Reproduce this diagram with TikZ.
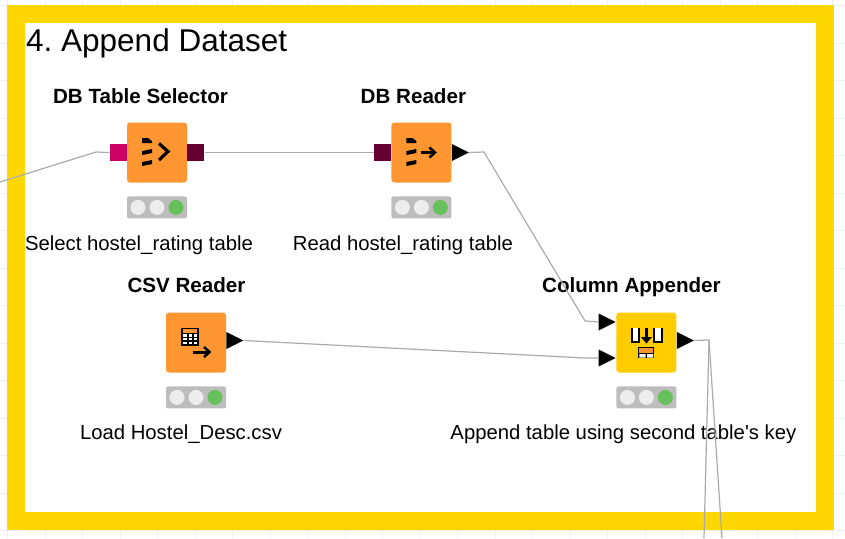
\documentclass[tikz,border=0pt]{standalone}
\usepackage{fontspec}
\setmainfont{Liberation Sans}
\newfontfamily\notefont{Liberation Sans}
\frenchspacing
\usetikzlibrary{positioning,shapes.geometric}
\definecolor{framey}{HTML}{FFD700}
\definecolor{nodeor}{HTML}{FF9632}
\definecolor{nodeye}{HTML}{FFCC00}
\definecolor{portin}{HTML}{CC0066}
\definecolor{portdb}{HTML}{660033}
\definecolor{lamp}{HTML}{BDBDBD}
\definecolor{lampon}{HTML}{66C05C}
\tikzset{main node/.style={rectangle,fill=nodeor,rounded corners=3pt,inner sep=0pt,minimum size=60pt}, }
\tikzset{main node2/.style={main node,fill=nodeye}, }
\tikzset{title text/.style={font=\fontsize{20.6}{24}\selectfont\bfseries,inner sep=0pt,text height=15pt,text depth=5pt}, }
\tikzset{note text/.style={font=\notefont\fontsize{20.3}{24}\selectfont,inner sep=0pt,text height=15pt,text depth=5pt}, }
\tikzset{db port/.style={rectangle,inner sep=0pt,minimum width=17pt,minimum height=17pt}, }
\tikzset{tri port/.style={isosceles triangle,isosceles triangle stretches,fill=black,inner sep=0pt,minimum height=17pt,minimum width=17pt}, }
\tikzset{linea/.style={draw=black!33,line width=1.2pt}}
\tikzset{status/.style={rectangle,fill=lamp,rounded corners=2pt,inner sep=0pt,minimum width=60pt,minimum height=22pt}, }
% traffic light under a node
\newcommand{\lights}[1]{
  \node[status,below=13.5pt of #1] (#1s) {};
  \fill[black!7] ([xshift=-19pt]#1s.center) circle (7.5pt) (#1s.center) circle (7.5pt);
  \fill[lampon] ([xshift=19pt]#1s.center) circle (7.5pt);
}
% three db bars
\newcommand{\bars}[1]{
  \begin{scope}[shift={(#1.center)}]
    \fill (-15,-14.5) -- (-9,-14.5) -- (-5,-11.5) -- (-5,-9.5) -- (-15,-9.5) -- cycle;
    \foreach \y in {-3.5,7.5}
      \fill (-15,\y+2) -- (-5,\y) -- (-5,\y+4) -- (-15,\y+6) -- cycle;
  \end{scope}
}
\begin{document}
\begin{tikzpicture}[x=1pt,y=-1pt]
  \useasboundingbox (0,0) rectangle (845,538);
  \foreach \x in {0,...,22} \draw[black!6,line width=.8pt] (7.5+37.5*\x,0) -- (7.5+37.5*\x,538);
  \foreach \y in {0,...,14} \draw[black!6,line width=.8pt] (0,5.5+37.5*\y) -- (845,5.5+37.5*\y);
  \draw[framey,line width=18pt,fill=white] (16,14) rectangle (825,521);
  \node[font=\fontsize{31.5}{36}\selectfont,inner sep=0pt,anchor=west] (head) at (26,43) {4. Append Dataset};
  %
  \node[main node] (sel) at (157,152.5) {};
  \node[main node] (read) [right=204pt of sel] {};
  \node[main node] (csv) at (196,342.5) {};
  \node[main node2] (app) [right=390pt of csv] {};
  %
  \node[title text] (sel1) [above=14pt of sel,xshift=-16.5pt] {DB Table Selector};
  \node[title text] (read1) [above=14pt of read,xshift=-8pt] {DB Reader};
  \node[title text] (csv1) [above=15pt of csv,xshift=-9.5pt] {CSV Reader};
  \node[title text] (app1) [above=15pt of app,xshift=-15pt] {Column Appender};
  \lights{sel} \lights{read} \lights{csv} \lights{app}
  \node[note text] (sel2) [below=17pt of sels,xshift=-18pt] {Select hostel\_rating table};
  \node[note text] (read2) [below=17pt of reads,xshift=-18.5pt] {Read hostel\_rating table};
  \node[note text] (csv2) [below=16pt of csvs,xshift=-15pt] {Load Hostel\_Desc.csv};
  \node[note text] (app2) [below=16pt of apps,xshift=-23pt] {Append table using second table's key};
  %
  \node[db port,fill=portin] (p1) [left=0pt of sel] {};
  \node[db port,fill=portdb] (p2) [right=0pt of sel] {};
  \node[db port,fill=portdb] (p3) [left=0pt of read] {};
  \node[tri port] (p4) [right=0pt of read] {};
  \node[tri port] (p5) [right=0pt of csv,yshift=2pt] {};
  \node[tri port] (p6) [left=0pt of app,yshift=20.5pt] {};
  \node[tri port] (p7) [left=0pt of app,yshift=-15.5pt] {};
  \node[tri port] (p8) [right=0pt of app,yshift=2pt] {};
  %
  \coordinate (c1) at (0,182);
  \coordinate (c2) at (96,152);
  \coordinate (c3) at (484,152);
  \coordinate (c4) at (585,321);
  \coordinate (c5) at (585,358);
  \coordinate (c6) at (709,340);
  \coordinate (c7) at (704,538);
  \coordinate (c8) at (722,538);
  \draw[linea] (c1) -- (c2) -- (p1.west);
  \draw[linea] (p2.east) -- (p3.west);
  \draw[linea] (p4.east) -- (c3) -- (c4) -- (p6.west);
  \draw[linea] (p5.east) -- (c5) -- (p7.west);
  \draw[linea] (p8.east) -- (c6) -- (c7);
  \draw[linea] (c6) -- (c8);
  %
  \bars{sel} \bars{read}
  \begin{scope}[shift={(sel.center)}]
    \draw[line width=3.2pt] (2,-9) -- (11,-1) -- (2,7.5);
  \end{scope}
  \begin{scope}[shift={(read.center)}]
    \draw[line width=3pt] (0,0) -- (12,0);
    \draw[line width=2.6pt] (8,-5) -- (13.5,0) -- (8,5);
  \end{scope}
  \begin{scope}[shift={(csv.center)}]
    \fill (-15,-15) rectangle (3,3);
    \fill[nodeor] (-13,-13.5) rectangle (1,-10);
    \fill[white] (-13,-8.5) rectangle (1,1);
    \foreach \x in {-8.6,-3.6} \fill (\x,-8.5) rectangle (\x+1.4,1);
    \foreach \y in {-5.6,-2.3} \fill (-13,\y) rectangle (1,\y+1.3);
    \draw[line width=3pt] (-3,9.5) -- (12,9.5);
    \draw[line width=2.6pt] (8,4.5) -- (13.5,9.5) -- (8,14.5);
  \end{scope}
  \begin{scope}[shift={(app.center)}]
    \fill[white] (-15,-14.5) rectangle (-7,-.5) (7,-14.5) rectangle (16,-.5);
    \draw[line width=2pt] (-14.5,-14.5) -- (-14.5,-1) -- (-7,-1) -- (-7,-14.5);
    \draw[line width=2pt] (7.5,-14.5) -- (7.5,-1) -- (15.5,-1) -- (15.5,-14.5);
    \draw[line width=3pt] (0,-14.5) -- (0,-3);
    \fill (-5.5,-5.5) -- (5.5,-5.5) -- (0,1) -- cycle;
    \fill (-8,4) rectangle (8,15);
    \fill[nodeor!85!brown] (-7,5) rectangle (7,10);
    \fill[white] (-7,11.5) rectangle (-.7,15) (.7,11.5) rectangle (7,15);
  \end{scope}
\end{tikzpicture}
\end{document}
